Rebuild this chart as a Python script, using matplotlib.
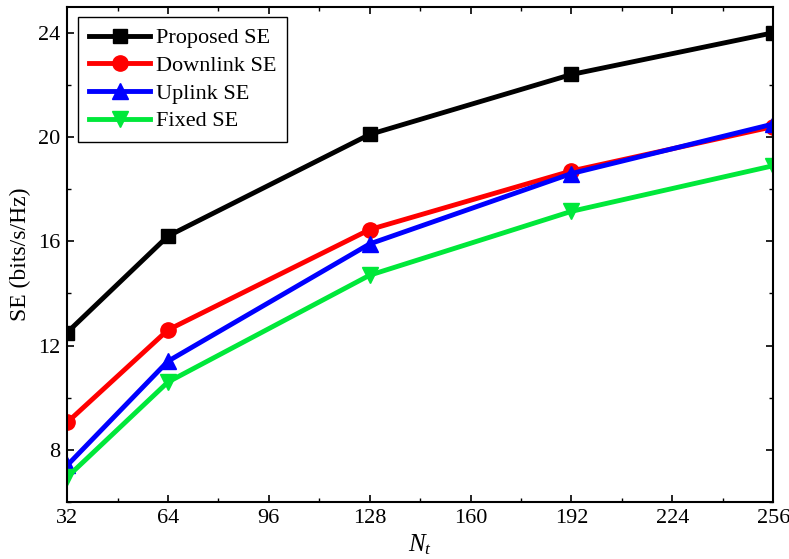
import matplotlib
matplotlib.use("Agg")
import matplotlib.pyplot as plt
from matplotlib.ticker import MultipleLocator

nt = [32, 64, 128, 192, 256]
proposed_se = [12.5, 16.2, 20.1, 22.4, 24.0]
downlink_se = [9.05, 12.6, 16.45, 18.7, 20.4]
uplink_se = [7.4, 11.4, 15.9, 18.6, 20.5]
fixed_se = [6.95, 10.6, 14.7, 17.15, 18.9]
labels = ["Proposed SE", "Downlink SE", "Uplink SE", "Fixed SE"]

plt.rcParams["font.family"] = ["Liberation Serif", "DejaVu Serif"]
plt.rcParams["mathtext.fontset"] = "custom"
plt.rcParams["mathtext.it"] = "Liberation Serif:italic"
plt.rcParams["mathtext.rm"] = "Liberation Serif"

fig = plt.figure(figsize=(7.89, 5.59), dpi=100)
ax = fig.add_axes([0.085, 0.102, 0.895, 0.886])

ax.plot(nt, proposed_se, "-s", color="black", lw=3.5, ms=10, label=labels[0])
ax.plot(nt, downlink_se, "-o", color="#ff0000", lw=3.5, ms=11, label=labels[1])
ax.plot(nt, uplink_se, "-^", color="#0000ff", lw=3.5, ms=11, label=labels[2])
ax.plot(nt, fixed_se, "-v", color="#00e83a", lw=3.5, ms=11, label=labels[3])

ax.set_xlim(32, 256)
ax.set_ylim(6, 25)
ax.xaxis.set_major_locator(MultipleLocator(32))
ax.xaxis.set_minor_locator(MultipleLocator(16))
ax.yaxis.set_minor_locator(MultipleLocator(2))
ax.set_yticks([8, 12, 16, 20, 24])
ax.tick_params(which="both", direction="in", top=True, right=True, labelsize=16)
ax.tick_params(which="major", length=5, width=1.2, pad=5)
ax.tick_params(which="minor", length=3, width=1)
for s in ax.spines.values():
    s.set_linewidth(1.5)

ax.set_xlabel("$N_t$", fontsize=18, labelpad=3)
ax.set_ylabel("SE (bits/s/Hz)", fontsize=17, labelpad=5)

leg = ax.legend(loc="upper left", fontsize=16, fancybox=False, edgecolor="black",
                framealpha=1, borderpad=0.5, borderaxespad=0, handlelength=2.75,
                labelspacing=0.32, handletextpad=0.25,
                bbox_to_anchor=(0.0156, 0.98))
leg.get_frame().set_linewidth(1.0)

fig.savefig("out.png", dpi=100)
